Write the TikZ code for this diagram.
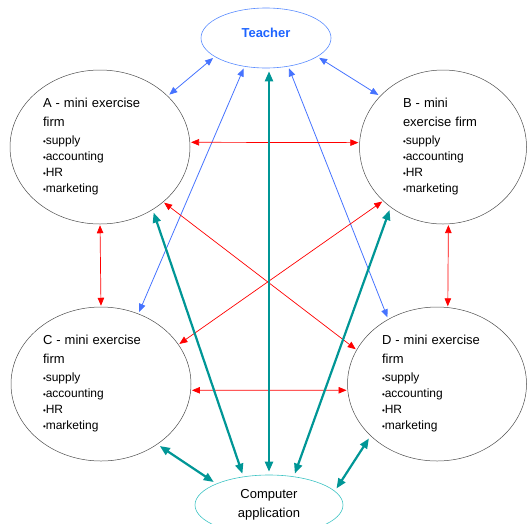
\documentclass[tikz,border=0pt]{standalone}
\usepackage{fontspec}
\setmainfont{Liberation Sans}
\usetikzlibrary{shapes.geometric, arrows.meta}
\definecolor{TeacherBlue}{RGB}{30,100,255}
\definecolor{RingBlue}{RGB}{90,140,255}
\definecolor{LinkBlue}{RGB}{70,115,255}
\definecolor{AppTeal}{RGB}{0,150,150}
\definecolor{AppRing}{RGB}{60,195,195}
\newcommand{\bul}{\raisebox{0.15ex}{\fontsize{8}{8}\selectfont\textbullet}}
\newcommand{\firmhead}[2]{{\fontsize{13}{16}\selectfont #1}\\[3pt]{\fontsize{13}{16}\selectfont #2}\\[2pt]}
\newcommand{\duties}{\bul supply\\\bul accounting\\\bul HR\\\bul marketing}
\tikzstyle{firm} = [ellipse, draw=black!70, line width=0.5pt, minimum width=180pt, minimum height=154pt, inner sep=1pt, text width=114pt, align=left, font=\fontsize{12}{16}\selectfont]
\tikzstyle{teacher} = [ellipse, draw=RingBlue, line width=0.6pt, minimum width=130pt, minimum height=60pt, text=TeacherBlue, font=\fontsize{13}{16}\selectfont\bfseries]
\tikzstyle{app} = [ellipse, draw=AppRing, line width=0.6pt, minimum width=148pt, minimum height=60pt, align=center, font=\fontsize{13}{19}\selectfont]
\tikzstyle{bluelink} = [draw=LinkBlue, line width=0.8pt, {Triangle[length=8pt,width=6.5pt]}-{Triangle[length=8pt,width=6.5pt]}, shorten <=2pt, shorten >=2pt]
\tikzstyle{redlink} = [draw=red, line width=0.7pt, {Triangle[length=8pt,width=6.5pt]}-{Triangle[length=8pt,width=6.5pt]}, shorten <=1pt, shorten >=1pt]
\tikzstyle{teallink} = [draw=AppTeal, line width=2.2pt, {Triangle[length=10pt,width=8pt]}-{Triangle[length=10pt,width=8pt]}, shorten <=3pt, shorten >=3pt]

\begin{document}
\begin{tikzpicture}[x=1pt, y=-1pt]
  \useasboundingbox (0,0) rectangle (527,523);
  % participants
  \node (teacher) [teacher] at (266,38) {\raisebox{10pt}{Teacher}};
  \node (firmA) [firm] at (100,147) {\firmhead{A - mini exercise}{firm}\duties};
  \node (firmB) [firm, minimum width=167pt, text width=80pt] at (443,147) {\firmhead{B - mini}{exercise firm}\duties};
  \node (firmC) [firm, text width=116pt] at (101,384) {\firmhead{C - mini exercise}{firm}\duties};
  \node (firmD) [firm, minimum width=179pt, text width=110pt] at (437,384) {\firmhead{D - mini exercise}{firm}\duties};
  \node (app) [app] at (269,505) {Computer\\application};
  % teacher links
  \draw [bluelink] (firmA.37) -- (teacher.200);
  \draw [bluelink] (teacher.-20) -- (firmB.141);
  \draw [bluelink] (teacher.-127) -- (firmC.62);
  \draw [bluelink] (teacher.-52) -- (firmD.127);
  % links between firms
  \draw [redlink] (firmA.3) -- (firmB.177);
  \draw [redlink] (firmC.-4) -- (firmD.184);
  \draw [redlink] (firmA.south) -- (firmC.north);
  \draw [redlink] (firmB.-86) -- (firmD.82);
  \draw [redlink] (firmA.-41) -- (firmD.157);
  \draw [redlink] (firmB.-138) -- (firmC.27);
  % computer application links
  \draw [teallink] (app.north) -- (app.north |- teacher.south);
  \draw [teallink] (firmA.-50) -- (app.132);
  \draw [teallink] (firmB.-131) -- (app.49);
  \draw [teallink] (firmC.-47) -- (app.158);
  \draw [teallink] (firmD.-142) -- (app.12);
\end{tikzpicture}
\end{document}
